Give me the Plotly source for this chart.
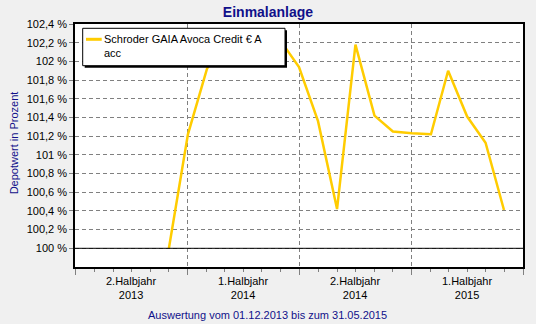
import plotly.graph_objects as go

# ---- data ----
dates = ["2013-12-01", "2014-01-01", "2014-02-01", "2014-03-01", "2014-04-01",
         "2014-05-01", "2014-06-01", "2014-07-01", "2014-08-01", "2014-09-01",
         "2014-10-01", "2014-11-01", "2014-12-01", "2015-01-01", "2015-02-01",
         "2015-03-01", "2015-04-01", "2015-05-01", "2015-05-31"]
values = [100.00, 101.22, 101.92, 102.28, 102.32,
          102.25, 102.22, 101.94, 101.36, 100.42,
          102.18, 101.42, 101.25, 101.23, 101.22,
          101.90, 101.41, 101.13, 100.41]
series_name = "Schroder GAIA Avoca Credit € A<br>acc"

y_tickvals = [100.0, 100.2, 100.4, 100.6, 100.8, 101.0, 101.2, 101.4,
              101.6, 101.8, 102.0, 102.2, 102.4]
y_ticktext = ["100 %", "100,2 %", "100,4 %", "100,6 %", "100,8 %", "101 %",
              "101,2 %", "101,4 %", "101,6 %", "101,8 %", "102 %", "102,2 %",
              "102,4 %"]

halfyear_bounds = ["2013-07-01", "2014-01-01", "2014-07-01", "2015-01-01", "2015-07-01"]
halfyear_mids = ["2013-10-01", "2014-04-01", "2014-10-01", "2015-04-01"]
halfyear_labels = ["2.Halbjahr<br>2013", "1.Halbjahr<br>2014",
                   "2.Halbjahr<br>2014", "1.Halbjahr<br>2015"]

title_text = "Einmalanlage"
y_title = "Depotwert in Prozent"
footer = "Auswertung vom 01.12.2013 bis zum 31.05.2015"

# ---- style ----
FONT = "Liberation Sans, Arial, sans-serif"
NAVY = "#10108a"
GOLD = "#FFCC00"
GRID = "#808080"

fig = go.Figure()
fig.add_trace(go.Scatter(x=dates, y=values, mode="lines", name=series_name,
                         line=dict(color=GOLD, width=2.5), showlegend=False))

fig.update_layout(
    width=536, height=324,
    margin=dict(l=75, r=11, t=24, b=57),
    paper_bgcolor="#f0f0f0", plot_bgcolor="white",
    font=dict(family=FONT, size=11, color="black"),
    title=dict(text="<b>" + title_text + "</b>", x=0.5, xanchor="center",
               y=1 - 12 / 324, yanchor="middle", yref="container",
               font=dict(family=FONT, size=14, color=NAVY)),
    xaxis=dict(type="date", range=[halfyear_bounds[0], halfyear_bounds[-1]],
               tickmode="array", tickvals=halfyear_bounds,
               ticktext=[""] * len(halfyear_bounds),
               ticks="outside", ticklen=6, tickcolor=GRID, tickwidth=1,
               showgrid=True, gridcolor=GRID, gridwidth=1, griddash="4px,3px",
               minor=dict(dtick="M1", tick0="2013-07-01", ticks="outside",
                          ticklen=3, tickcolor=GRID, showgrid=False),
               showline=True, linecolor="black", linewidth=1.5, mirror=True,
               zeroline=False, fixedrange=True),
    yaxis=dict(range=[99.8, 102.4], tickmode="array", tickvals=y_tickvals,
               ticktext=y_ticktext, ticks="outside", ticklen=4, tickcolor=GRID,
               showgrid=True, gridcolor=GRID, gridwidth=1, griddash="4px,3px",
               showline=True, linecolor="black", linewidth=1.5, mirror=True,
               zeroline=False, tickfont=dict(size=11, color="black")),
)

# solid baseline at 100 %
fig.add_shape(type="line", xref="paper", x0=0, x1=1, yref="y",
              y0=y_tickvals[0], y1=y_tickvals[0], line=dict(color="black", width=1))

# half-year labels
for xm, lab in zip(halfyear_mids, halfyear_labels):
    fig.add_annotation(x=xm, xref="x", y=0, yref="paper", yanchor="top",
                       yshift=-6, text=lab, showarrow=False,
                       font=dict(family=FONT, size=11, color="black"))

# y-axis title
fig.add_annotation(x=-0.1356, xref="paper", y=0.51, yref="paper", text=y_title,
                   textangle=-90, showarrow=False, xanchor="center", yanchor="middle",
                   font=dict(family=FONT, size=11, color=NAVY))

# footer
fig.add_annotation(x=(268 - 75) / 450, xref="paper", y=0, yref="paper",
                   yshift=-48, yanchor="middle", xanchor="center", text=footer,
                   showarrow=False, font=dict(family=FONT, size=11, color=NAVY))

# legend (drawn box with shadow)
fig.add_shape(type="rect", xref="paper", yref="paper", xsizemode="pixel",
              ysizemode="pixel", xanchor=0, yanchor=1, x0=9.7, x1=212,
              y0=-6.3, y1=-43.7, fillcolor="black", line=dict(width=0), layer="above")
fig.add_shape(type="rect", xref="paper", yref="paper", xsizemode="pixel",
              ysizemode="pixel", xanchor=0, yanchor=1, x0=7.7, x1=210,
              y0=-4.3, y1=-41.7, fillcolor="white", line=dict(color="black", width=1),
              layer="above")
fig.add_shape(type="line", xref="paper", yref="paper", xsizemode="pixel",
              ysizemode="pixel", xanchor=0, yanchor=1, x0=11, x1=26.7,
              y0=-15.3, y1=-15.3, line=dict(color=GOLD, width=3), layer="above")
fig.add_annotation(x=0, xref="paper", y=1, yref="paper", xshift=27, yshift=-7,
                   xanchor="left", yanchor="top", align="left", text=series_name,
                   showarrow=False, font=dict(family=FONT, size=11, color="black"))

fig.write_html("out.html")
